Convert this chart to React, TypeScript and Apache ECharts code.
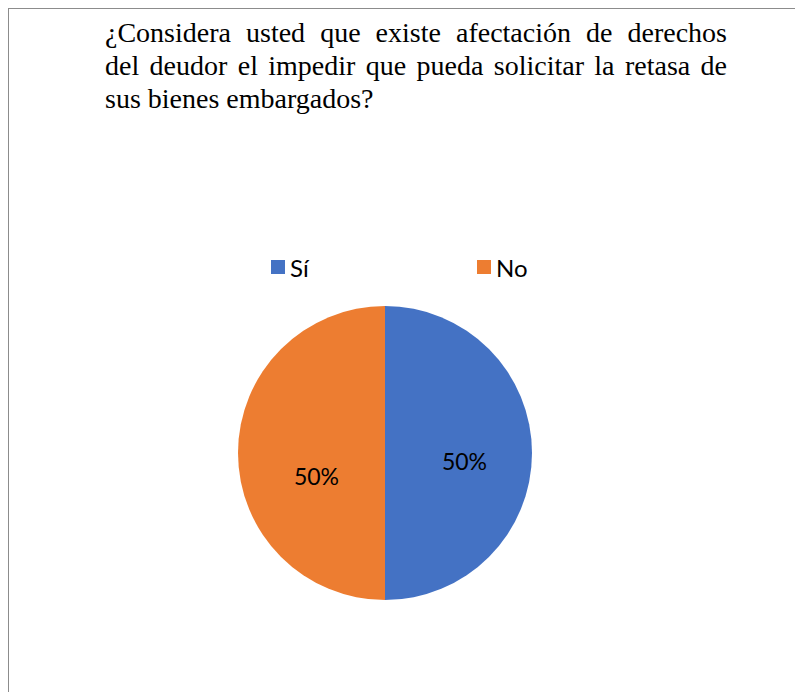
import React, { useEffect, useRef } from "react";
import * as echarts from "echarts";

const titleLines = [
  "¿Considera usted que existe afectación de derechos",
  "del deudor el impedir que pueda solicitar la retasa de",
  "sus bienes embargados?",
];
const categories = ["Sí", "No"];
const values = [50, 50];
const colors = ["#4472C4", "#ED7D31"];
const labelOffsets: [number, number][] = [
  [3, 8],
  [8, 23],
];

const TITLE_FAMILY = "'Liberation Serif', 'Times New Roman', 'DejaVu Serif', serif";
const TITLE_SIZE = 28;

function justifiedTitle(): any[] {
  const canvas = document.createElement("canvas");
  const ctx = canvas.getContext("2d")!;
  ctx.font = `${TITLE_SIZE}px ${TITLE_FAMILY}`;
  const left = 105;
  const right = 727;
  const baseTop = 18;
  const lh = 33;
  const els: any[] = [];
  const st = (text: string) => ({
    text,
    fontFamily: TITLE_FAMILY,
    fontSize: TITLE_SIZE,
    fill: "#000",
  });
  titleLines.forEach((line, li) => {
    const y = baseTop + li * lh;
    const last = li === titleLines.length - 1;
    if (last) {
      els.push({ type: "text", x: left, y, style: st(line) });
      return;
    }
    const words = line.split(" ");
    const widths = words.map((w) => ctx.measureText(w).width);
    const total = widths.reduce((a, b) => a + b, 0);
    const gap = (right - left - total) / (words.length - 1);
    let x = left;
    words.forEach((w, i) => {
      els.push({ type: "text", x, y, style: st(w) });
      x += widths[i] + gap;
    });
  });
  return els;
}

export default function App() {
  const ref = useRef<HTMLDivElement>(null);
  useEffect(() => {
    const chart = echarts.init(ref.current!, undefined, { renderer: "svg" });
    const legendCommon = {
      orient: "horizontal",
      top: 250,
      padding: 5,
      itemWidth: 14,
      itemHeight: 14,
      itemGap: 0,
      icon: "rect",
      textStyle: { fontFamily: "Lato", fontSize: 24, color: "#000" },
      selectedMode: false,
    };
    chart.setOption({
      animation: false,
      backgroundColor: "#fff",
      color: colors,
      legend: [
        { ...legendCommon, left: 266, data: [categories[0]] },
        { ...legendCommon, left: 472, data: [categories[1]] },
      ],
      graphic: [
        {
          type: "line",
          shape: { x1: 8, y1: 8.5, x2: 795, y2: 8.5 },
          style: { stroke: "#8c8c8c", lineWidth: 1 },
        },
        {
          type: "line",
          shape: { x1: 8.5, y1: 8, x2: 8.5, y2: 692 },
          style: { stroke: "#8c8c8c", lineWidth: 1 },
        },
        ...justifiedTitle(),
      ],
      series: [
        {
          type: "pie",
          center: [385, 453],
          radius: 147,
          startAngle: 90,
          clockwise: true,
          label: {
            show: true,
            position: "inside",
            formatter: "{d}%",
            fontFamily: "Lato",
            fontSize: 23,
            color: "#000",
          },
          labelLine: { show: false },
          emphasis: { disabled: true },
          itemStyle: { borderWidth: 0 },
          data: categories.map((c, i) => ({
            name: c,
            value: values[i],
            label: { offset: labelOffsets[i] },
          })),
        },
      ],
    });
    return () => chart.dispose();
  }, []);
  return (
    <div
      ref={ref}
      style={{ position: "absolute", left: 0, top: 0, width: 795, height: 692 }}
    />
  );
}
